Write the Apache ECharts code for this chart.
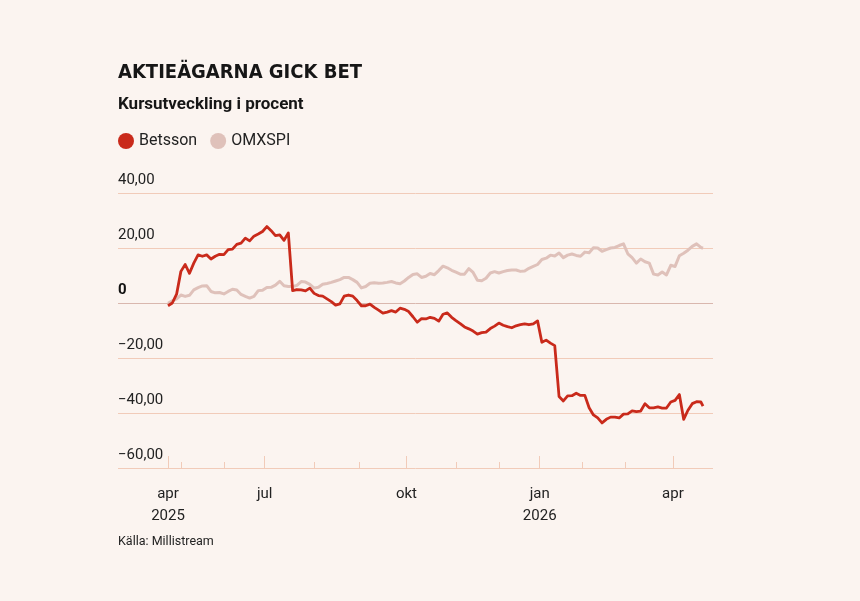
<!DOCTYPE html>
<html>
<head>
<meta charset="utf-8">
<script src="https://cdn.jsdelivr.net/npm/echarts@6/dist/echarts.min.js"></script>
<style>
  html, body { margin: 0; padding: 0; background: #fbf4f0; }
  #chart { width: 860px; height: 601px; }
</style>
</head>
<body>
<div id="chart"></div>
<script>
// trading days on the Stockholm exchange, 2025-04-23 .. 2026-04-23
const firstDay = '2025-04-23';
const lastDay = '2026-04-23';
const holidays = [
  '2025-05-01', '2025-05-29', '2025-06-06', '2025-06-20',
  '2025-12-24', '2025-12-25', '2025-12-26', '2025-12-31',
  '2026-01-01', '2026-01-06', '2026-04-03', '2026-04-06'
];
const monthNames = ['jan', 'feb', 'mar', 'apr', 'maj', 'jun', 'jul', 'aug', 'sep', 'okt', 'nov', 'dec'];
const yTicks = [-60, -40, -20, 0, 20, 40];

// one value every STEP trading days (the last one sits on the final day)
const STEP = 2;
const betsson = [
  -1.0, 0.0, 3.2, 11.5, 14.0, 10.8, 14.5, 17.5, 17.0, 17.5,
  16.0, 17.0, 17.7, 17.6, 19.4, 19.6, 21.3, 21.8, 23.6, 22.6,
  24.3, 25.1, 26.0, 27.8, 26.3, 24.5, 24.8, 22.8, 25.5, 4.5,
  4.9, 4.8, 4.4, 5.4, 3.5, 2.7, 2.5, 1.5, 0.5, -0.8,
  -0.3, 2.5, 2.9, 2.5, 0.9, -1.0, -1.0, -0.4, -1.6, -2.6,
  -3.7, -3.3, -2.8, -3.3, -1.9, -2.3, -3.1, -5.0, -7.0, -5.7,
  -5.8, -5.2, -5.6, -6.6, -4.1, -3.6, -5.2, -6.4, -7.5, -8.7,
  -9.4, -10.2, -11.3, -10.8, -10.6, -9.3, -8.4, -7.3, -8.1, -8.6,
  -9.0, -8.3, -7.9, -7.6, -7.9, -7.6, -6.5, -14.3, -13.5, -14.6,
  -15.5, -34.0, -35.6, -33.8, -33.7, -32.8, -33.6, -33.6, -38.1, -40.7,
  -41.8, -43.6, -42.3, -41.5, -41.5, -41.8, -40.4, -40.3, -39.2, -39.5,
  -39.3, -36.6, -38.1, -38.1, -37.8, -38.2, -38.2, -36.0, -35.4, -33.3,
  -42.3, -39.0, -36.6, -35.9, -36.0, -37.5
];
const omxspi = [
  -0.1, 0.8, 1.5, 2.9, 2.4, 2.8, 4.8, 5.6, 6.2, 6.3,
  4.2, 3.7, 3.8, 3.3, 4.2, 5.0, 4.7, 3.1, 2.4, 1.8,
  2.4, 4.5, 4.6, 5.6, 5.7, 6.5, 7.9, 6.3, 6.0, 6.0,
  6.4, 7.8, 7.6, 6.8, 5.4, 5.7, 6.8, 7.1, 7.5, 8.0,
  8.5, 9.3, 9.3, 8.5, 7.5, 5.5, 6.0, 7.2, 7.4, 7.2,
  7.3, 7.5, 7.8, 7.3, 7.0, 8.0, 9.3, 10.4, 10.6, 9.3,
  9.7, 10.7, 10.3, 11.8, 13.4, 12.8, 11.9, 11.2, 10.5, 10.5,
  12.5, 11.1, 8.3, 8.1, 9.0, 10.9, 11.4, 10.9, 11.4, 11.8,
  12.0, 12.0, 11.5, 11.6, 12.6, 13.3, 14.0, 15.8, 16.3, 17.4,
  17.1, 18.2, 16.5, 17.4, 17.8, 17.3, 17.0, 18.5, 18.3, 20.1,
  20.0, 18.8, 19.4, 20.0, 20.2, 20.9, 21.5, 17.9, 16.5, 14.5,
  16.0, 15.0, 14.5, 10.5, 10.2, 11.3, 10.2, 13.7, 13.3, 17.2,
  18.1, 19.2, 20.6, 21.5, 20.2, 19.9
];

function tradingDays(from, to) {
  const out = [];
  const d = new Date(from + 'T12:00:00Z');
  const end = new Date(to + 'T12:00:00Z');
  while (d <= end) {
    const s = d.toISOString().slice(0, 10);
    const wd = d.getUTCDay();
    if (wd !== 0 && wd !== 6 && !holidays.includes(s)) out.push(s);
    d.setUTCDate(d.getUTCDate() + 1);
  }
  return out;
}

const days = tradingDays(firstDay, lastDay);
const month = s => Number(s.slice(5, 7));
const isMonthStart = i => i === 0 || month(days[i]) !== month(days[i - 1]);
const isQuarterStart = i => isMonthStart(i) && [1, 4, 7, 10].includes(month(days[i]));

const toPoints = arr => arr.map((v, k) => [days[Math.min(k * STEP, days.length - 1)], v]);

const font = 'Roboto, "Noto Sans", sans-serif';
const gridColor = '#f1cbb9';
const zeroColor = '#d9b7ae';

const chart = echarts.init(document.getElementById('chart'), null, { renderer: 'canvas' });

const option = {
  backgroundColor: '#fbf4f0',
  animation: false,
  textStyle: { fontFamily: font },
  title: [
    {
      text: 'AKTIEÄGARNA GICK BET',
      left: 118, top: 63, padding: 0,
      textStyle: {
        fontFamily: '"DejaVu Sans Condensed", "DejaVu Sans", Roboto, sans-serif',
        fontWeight: 'bold', fontSize: 20, color: '#161616'
      }
    },
    {
      text: 'Kursutveckling i procent',
      left: 118, top: 96, padding: 0,
      textStyle: { fontFamily: font, fontWeight: 'bold', fontSize: 17, color: '#161616' }
    },
    {
      text: 'Källa: Millistream',
      left: 118, top: 535, padding: 0,
      textStyle: { fontFamily: font, fontWeight: 'normal', fontSize: 12.5, color: '#222' }
    }
  ],
  legend: {
    left: 118, top: 133,
    padding: 0,
    itemWidth: 16, itemHeight: 16, itemGap: 13,
    icon: 'circle',
    data: ['Betsson', 'OMXSPI'],
    textStyle: { fontFamily: font, fontSize: 16, color: '#222' }
  },
  grid: [
    { left: 118, right: 147, top: 193, height: 275 },
    { left: 168, right: 157, top: 193, height: 275 }
  ],
  xAxis: [
    { gridIndex: 0, type: 'value', min: 0, max: 1, show: false },
    {
      gridIndex: 1,
      type: 'category',
      data: days,
      boundaryGap: false,
      position: 'bottom',
      axisLine: { show: false, onZero: false },
      axisTick: {
        show: true, inside: true, length: 12,
        interval: i => isQuarterStart(i),
        lineStyle: { color: gridColor, width: 1 }
      },
      axisLabel: {
        interval: i => isQuarterStart(i),
        margin: 15,
        fontFamily: font, fontSize: 15, color: '#222', lineHeight: 22,
        formatter: (v) => {
          const m = month(v);
          const name = monthNames[m - 1];
          const i = days.indexOf(v);
          return (i === 0 || m === 1) ? name + '\n' + v.slice(0, 4) : name;
        }
      },
      splitLine: { show: false }
    },
    {
      gridIndex: 1,
      type: 'category',
      data: days,
      boundaryGap: false,
      position: 'bottom',
      axisLine: { show: false, onZero: false },
      axisTick: {
        show: true, inside: true, length: 6,
        interval: i => isMonthStart(i),
        lineStyle: { color: gridColor, width: 1 }
      },
      axisLabel: { show: false },
      splitLine: { show: false }
    }
  ],
  yAxis: [
    {
      gridIndex: 0,
      type: 'value',
      min: yTicks[0], max: yTicks[yTicks.length - 1], interval: 20,
      axisLine: { show: false },
      axisTick: { show: false },
      axisLabel: {
        inside: true,
        margin: 0,
        verticalAlign: 'bottom',
        padding: [0, 0, 5, 0],
        fontFamily: font, fontSize: 15, color: '#222',
        formatter: v => v === 0 ? '{z|0}' : (v < 0 ? '\u2212' : '') + Math.abs(v) + ',00',
        rich: { z: { fontFamily: font, fontSize: 15, fontWeight: 'bold', color: '#111' } }
      },
      splitLine: {
        show: true,
        lineStyle: {
          width: 1,
          color: yTicks.map(t => t === 0 ? zeroColor : gridColor)
        }
      }
    },
    {
      gridIndex: 1,
      type: 'value',
      min: yTicks[0], max: yTicks[yTicks.length - 1], interval: 20,
      show: false,
      splitLine: { show: false }
    }
  ],
  series: [
    {
      name: 'OMXSPI',
      type: 'line',
      xAxisIndex: 1, yAxisIndex: 1,
      data: toPoints(omxspi),
      showSymbol: false,
      color: '#dfc1ba',
      lineStyle: { width: 3, color: '#dfc1ba', join: 'round' }
    },
    {
      name: 'Betsson',
      type: 'line',
      xAxisIndex: 1, yAxisIndex: 1,
      data: toPoints(betsson),
      showSymbol: false,
      color: '#c92a1b',
      lineStyle: { width: 2.8, color: '#c92a1b', join: 'round' }
    }
  ]
};

chart.setOption(option);
</script>
</body>
</html>
